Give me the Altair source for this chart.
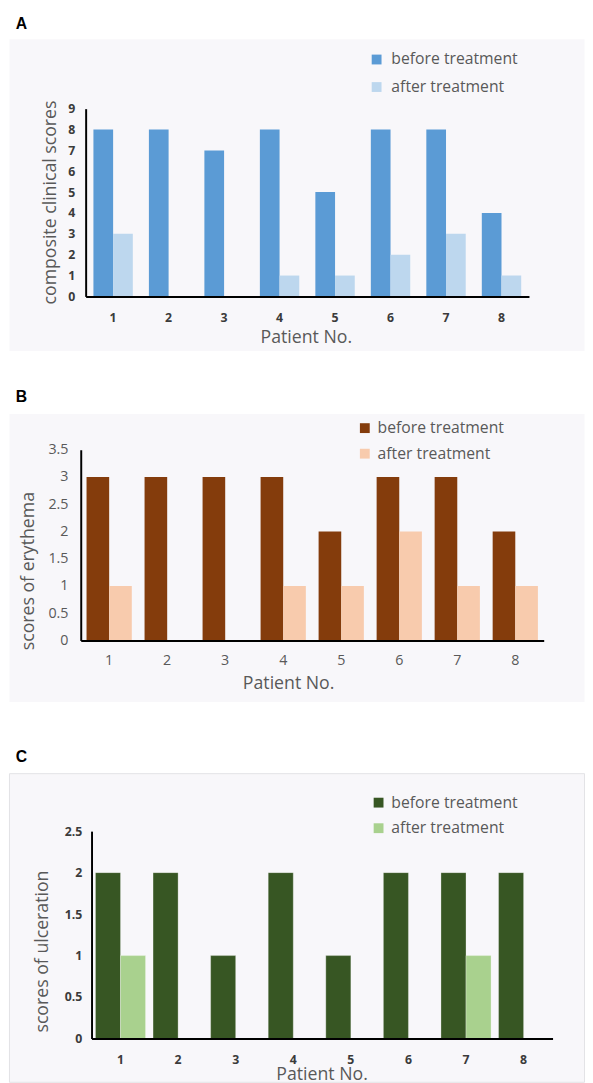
import altair as alt
import pandas as pd

patients = [1, 2, 3, 4, 5, 6, 7, 8]
periods = ["before treatment", "after treatment"]

a_before = [8, 8, 7, 8, 5, 8, 8, 4]
a_after = [3, 0, 0, 1, 1, 2, 3, 1]
b_before = [3, 3, 3, 3, 2, 3, 3, 2]
b_after = [1, 0, 0, 1, 1, 2, 1, 1]
c_before = [2, 2, 1, 2, 1, 2, 2, 2]
c_after = [1, 0, 0, 0, 0, 0, 1, 0]

a_ticks = [0, 1, 2, 3, 4, 5, 6, 7, 8, 9]
b_ticks = [0, 0.5, 1, 1.5, 2, 2.5, 3, 3.5]
c_ticks = [0, 0.5, 1, 1.5, 2, 2.5]

a_colors = ["#5B9BD5", "#BDD7EE"]
b_colors = ["#843C0C", "#F8CBAD"]
c_colors = ["#375623", "#A9D18E"]

BG = "#F8F7FA"
W = 585
FONT = "Open Sans"
TXT = "#595959"


def long(before, after):
    rows = []
    for p, b, a in zip(patients, before, after):
        rows.append({"patient": p, "period": periods[0], "value": b})
        rows.append({"patient": p, "period": periods[1], "value": a})
    return pd.DataFrame(rows)


def panel(letter, df, colors, ytitle, ymax, yticks, g):
    mark_kw = {}
    if g.get("stroke"):
        mark_kw = dict(stroke="#ffffff", strokeOpacity=0.3, strokeWidth=1)
    ch = alt.Chart(df).transform_filter("datum.value > 0").mark_bar(**mark_kw).encode(
        x=alt.X(
            "patient:O",
            scale=alt.Scale(range=[g["x0"], g["x1"]], paddingInner=g["pi"], paddingOuter=g["po"]),
            axis=alt.Axis(
                labelAngle=0, offset=-(g["H"] - g["y0"]), domainColor="black", domainWidth=2,
                ticks=False, tickSize=0, grid=False, labelPadding=g["xlp"],
                labelFont=FONT, labelFontSize=g["lfs"], labelFontWeight=g["lfw"],
                labelColor=g["lc"], title="Patient No.", titleFont=FONT, titleFontSize=18,
                titleFontWeight="normal", titleColor=TXT, titleX=g["xtx"], titleY=g["xty"],
                titleBaseline="top", titleAlign="center", zindex=1,
            ),
        ),
        xOffset=alt.XOffset("period:N", scale=alt.Scale(domain=periods)),
        y=alt.Y(
            "value:Q",
            scale=alt.Scale(domain=[0, ymax], range=[g["y0"], g["y1"]], nice=False),
            axis=alt.Axis(
                values=yticks, format="~g", offset=-g["x0"], domainColor="black", domainWidth=2,
                ticks=False, tickSize=0, grid=False, labelPadding=g["ylp"],
                labelFont=FONT, labelFontSize=g["lfs"], labelFontWeight=g["lfw"],
                labelColor=g["lc"], title=ytitle, titleFont=FONT, titleFontSize=18,
                titleFontWeight="normal", titleColor=TXT, titleX=g["ytx"], titleY=g["yty"],
                titleAngle=270, titleBaseline="bottom", titleAlign="center", zindex=1,
            ),
        ),
        color=alt.Color(
            "period:N",
            scale=alt.Scale(domain=periods, range=colors),
            legend=alt.Legend(
                title=None, orient="none", legendX=g["lx"], legendY=g["ly"], padding=0,
                symbolType="square", symbolSize=100, symbolStrokeWidth=0,
                labelFont=FONT, labelFontSize=16, labelColor=TXT,
                rowPadding=g["rp"], labelOffset=g["lo"],
            ),
        ),
    ).properties(
        width=W,
        height=g["H"],
        title=alt.TitleParams(
            letter, anchor="start", frame="group", dx=7, offset=g["toff"],
            font="Liberation Sans", fontSize=16, fontWeight="bold", color="black",
            baseline="alphabetic",
        ),
    )
    if g.get("border"):
        ch = ch.properties(view=alt.ViewBackground(fill=BG, stroke="#E2E2E6", strokeWidth=1))
    return ch


gA = dict(H=317, x0=78, x1=529, y0=262, y1=71, pi=0.29, po=0.14, xlp=16, ylp=11,
          lfs=12.5, lfw="bold", lc="#3B3B3B", xtx=302, xty=33, ytx=-27, yty=166,
          lx=366, ly=13, rp=12, lo=7, toff=-6)
gB = dict(H=293, x0=73, x1=544, y0=231, y1=37, pi=0.22, po=0.10, xlp=13, ylp=13,
          lfs=14.5, lfw="normal", lc=TXT, xtx=284, xty=35, ytx=-44, yty=160,
          lx=354, ly=7, rp=10, lo=5, toff=-4)
gC = dict(H=314, x0=84, x1=553, y0=270, y1=59, pi=0.13, po=0.068, xlp=15, ylp=10,
          lfs=12.5, lfw="bold", lc="#3B3B3B", xtx=318, xty=28, ytx=-41, yty=181,
          lx=368, ly=22, rp=10, lo=5, toff=-5, stroke=True, border=True)

pA = panel("A", long(a_before, a_after), a_colors, "composite clinical scores", 9, a_ticks, gA)
pB = panel("B", long(b_before, b_after), b_colors, "scores of erythema", 3.5, b_ticks, gB)
pC = panel("C", long(c_before, c_after), c_colors, "scores of ulceration", 2.5, c_ticks, gC)

res = dict(x="independent", y="independent", color="independent", xOffset="independent")

lower = alt.vconcat(pB, pC, spacing=47).resolve_scale(**res).resolve_legend(color="independent")
chart = alt.vconcat(pA, lower, spacing=37).resolve_scale(**res).resolve_legend(
    color="independent"
).properties(
    padding={"left": 0, "right": 0, "top": -2, "bottom": 0},
    background="white",
).configure_view(fill=BG, stroke="transparent")

chart.save("out.html", embed_options={"renderer": "svg", "actions": False})
